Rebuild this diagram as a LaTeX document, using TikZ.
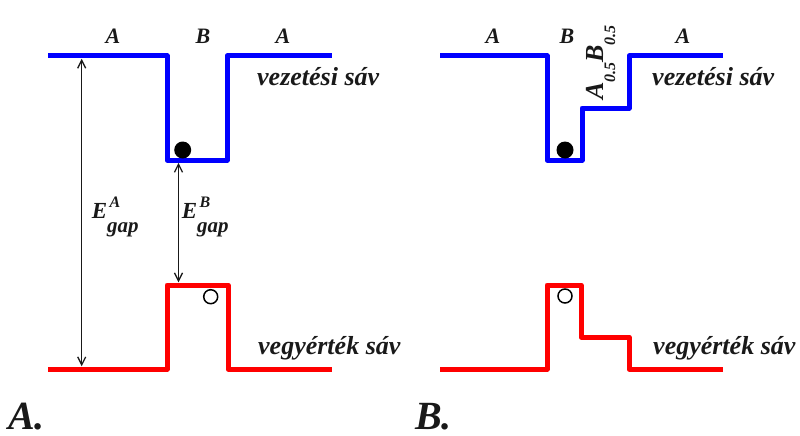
\documentclass[tikz,border=0pt]{standalone}
\usepackage{fontspec}
\setmainfont{Liberation Serif}
\usetikzlibrary{arrows.meta}
\definecolor{cbblue}{RGB}{0,0,255}
\definecolor{vbred}{RGB}{255,0,0}
\definecolor{ink}{RGB}{25,25,25}
\begin{document}
\begin{tikzpicture}[x=1pt,y=-1pt,
 band/.style={line width=5pt, line join=round},
 cb/.style={band, draw=cbblue},
 vb/.style={band, draw=vbred},
 gaparrow/.style={line width=1.3pt, draw=ink, {Straight Barb[length=8pt,width=8pt]}-{Straight Barb[length=8pt,width=8pt]}},
 lab/.style={inner sep=0pt, text=ink, font=\fontsize{22}{22}\selectfont\bfseries\itshape, anchor=base},
 bandlab/.style={inner sep=0pt, text=ink, font=\fontsize{26}{26}\selectfont\bfseries\itshape, anchor=base west},
 gaplab/.style={inner sep=0pt, text=ink, font=\fontsize{23}{23}\selectfont\bfseries\itshape, anchor=base west},
 panel/.style={inner sep=0pt, text=ink, font=\fontsize{40}{40}\selectfont\bfseries\itshape, anchor=base west},
 electron/.style={circle, fill=black, minimum size=17pt, inner sep=0pt},
 hole/.style={circle, draw=black, line width=1.5pt, minimum size=14pt, inner sep=0pt, fill=white},
]
\useasboundingbox (0,0) rectangle (800,436);
\newcommand{\supA}[1]{\rlap{\hspace{2.5pt}\raisebox{11pt}{\fontsize{16}{16}\selectfont #1}}\raisebox{-14pt}{\fontsize{21}{21}\selectfont gap}}
\newcommand{\subhalf}{\raisebox{-12pt}{\fontsize{16}{16}\selectfont 0.5}}

% ---------- panel A ----------
\draw[cb] (48,56) -- (167,56) -- (167,160) -- (227,160) -- (227,56) -- (332,56);
\draw[vb] (48,369) -- (167,369) -- (167,285) -- (228,285) -- (228,369) -- (332,369);
\node[electron] (eA) at (182.7,150) {};
\node[hole] (hA) at (210.7,296.7) {};
\coordinate (gA1) at (81.7,58.8);
\coordinate (gA2) at (81.7,366.3);
\coordinate (gB1) at (178.5,162.8);
\coordinate (gB2) at (178.5,282.3);
\draw[gaparrow] (gA1) -- (gA2);
\draw[gaparrow] (gB1) -- (gB2);
\node[lab] (lA1) at (113,44) {A};
\node[lab] (lB1) at (203,44) {B};
\node[lab] (lA2) at (283,44) {A};
\node[bandlab] (cbA) at (257,85) {vezetési sáv};
\node[bandlab] (vbA) at (258,354) {vegyérték sáv};
\node[gaplab] (EgA) at (91.7,218) {E\supA{A}};
\node[gaplab] (EgB) at (181.7,218) {E\supA{B}};
\node[panel] (pA) at (8,429) {A.};

% ---------- panel B ----------
\draw[cb] (440,56) -- (547,56) -- (547,160) -- (582,160) -- (582,108) -- (629,108) -- (629,56) -- (723,56);
\draw[vb] (440,369) -- (547,369) -- (547,285) -- (581,285) -- (581,337) -- (629,337) -- (629,369) -- (723,369);
\node[electron] (eB) at (565,150) {};
\node[hole] (hB) at (565,296) {};
\node[lab] (lA3) at (493,44) {A};
\node[lab] (lB2) at (567,44) {B};
\node[lab] (lA4) at (683,44) {A};
\node[bandlab, rotate=90] (alloy) at (603,100) {A\subhalf B\subhalf};
\node[bandlab] (cbB) at (652,85) {vezetési sáv};
\node[bandlab] (vbB) at (653,354) {vegyérték sáv};
\node[panel] (pB) at (415,429) {B.};
\end{tikzpicture}
\end{document}
